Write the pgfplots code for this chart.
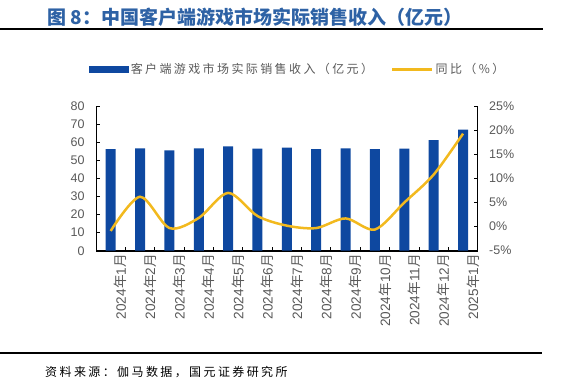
\documentclass[border=0pt]{standalone}
\usepackage{fontspec}
\setmainfont{Liberation Sans}
\newfontfamily\cjk{Noto Sans CJK SC}
\newfontfamily\cjkls{Noto Sans CJK SC}[LetterSpace=20]
\newfontfamily\cjkxl{Noto Sans CJK SC}[LetterSpace=20]
\usepackage{pgfplots}
\pgfplotsset{compat=1.18}
\definecolor{barblue}{RGB}{14,72,160}
\definecolor{gold}{RGB}{242,185,30}
\definecolor{titleblue}{RGB}{46,98,165}
\definecolor{tickgray}{RGB}{89,89,89}
\newcommand{\ym}[2]{#1{\cjk 年}#2{\cjk 月}}
\begin{document}
\begin{tikzpicture}
\path[use as bounding box] (0,0) rectangle (563pt,378pt);
\draw[line width=2pt] (0,349.2pt) -- (543pt,349.2pt);
\node[anchor=west, text=titleblue, font=\cjk\bfseries\fontsize{19}{21}\selectfont, inner sep=0] at (47pt,361pt) {图 8：中国客户端游戏市场实际销售收入（亿元）};
\draw[line width=2pt] (0,24.7pt) -- (542pt,24.7pt);
\node[anchor=west, font=\cjkxl\fontsize{12}{14}\selectfont, inner sep=0, text=black] at (45pt,6.3pt) {资料来源：伽马数据，国元证券研究所};

\begin{axis}[
  at={(96pt,127.3pt)}, anchor=south west,
  scale only axis, width=381.7pt, height=144.5pt,
  xmin=-0.5, xmax=12.5, ymin=0, ymax=80,
  axis x line*=bottom, axis y line*=left,
  axis line style={black, line width=0.8pt},
  x axis line style={line width=1.6pt},
  tick align=inside,
  xtick={0,...,12},
  xticklabels={\ym{2024}{1},\ym{2024}{2},\ym{2024}{3},\ym{2024}{4},\ym{2024}{5},\ym{2024}{6},\ym{2024}{7},\ym{2024}{8},\ym{2024}{9},\ym{2024}{10},\ym{2024}{11},\ym{2024}{12},\ym{2025}{1}},
  major x tick style={draw=none},
  minor xtick={-0.5,0.5,...,12.5},
  minor tick length=3.5pt,
  minor x tick style={black, line width=0.8pt},
  xticklabel style={rotate=90, anchor=east, font=\fontsize{13.6}{15}\selectfont, text=tickgray, yshift=-10pt},
  ytick={0,10,...,80},
  yticklabels={0,10,20,30,40,50,60,70,80},
  major tick length=3.5pt,
  y tick style={black, line width=0.8pt},
  yticklabel style={font=\fontsize{12.5}{14}\selectfont, text=tickgray, xshift=-8pt},
  /pgf/number format/assume math mode=true,
  legend style={at={(0.528,1.255)}, anchor=center, draw=none, fill=none,
    font=\cjkls\fontsize{12}{14}\selectfont, text=tickgray,
    /tikz/every even column/.append style={column sep=16pt}},
  legend columns=2,
  legend cell align=left,
]
\addplot[ybar, bar width=10pt, fill=barblue, draw=none,
  legend image code/.code={\fill[barblue] (0pt,-3.5pt) rectangle (40pt,3.5pt);}]
  coordinates {(0,56.2) (1,56.7) (2,55.6) (3,56.7) (4,57.7) (5,56.5) (6,57.1) (7,56.2) (8,56.7) (9,56.2) (10,56.5) (11,61.2) (12,67.1)};
\addlegendentry{客户端游戏市场实际销售收入（亿元）}
\addlegendimage{gold, line width=2.5pt, legend image code/.code={\draw[gold, line width=2.5pt] (0pt,0pt) -- (40pt,0pt);}}
\addlegendentry{同比（\%）}
\end{axis}

\begin{axis}[
  at={(96pt,127.3pt)}, anchor=south west,
  scale only axis, width=381.7pt, height=144.5pt,
  xmin=-0.5, xmax=12.5, ymin=-5, ymax=25,
  axis x line=none, axis y line*=right,
  axis line style={black, line width=0.8pt},
  tick align=inside,
  ytick={-5,0,5,10,15,20,25},
  yticklabels={-5\%,0\%,5\%,10\%,15\%,20\%,25\%},
  major tick length=3.5pt,
  y tick style={black, line width=0.8pt},
  yticklabel style={font=\fontsize{12.5}{14}\selectfont, text=tickgray, xshift=8pt},
  /pgf/number format/assume math mode=true,
]
\addplot[gold, line width=2.5pt, smooth, tension=0.5, mark=none]
  coordinates {(0,-0.9) (1,6.2) (2,-0.3) (3,1.8) (4,7.0) (5,2.2) (6,0.2) (7,-0.3) (8,1.7) (9,-0.6) (10,5.0) (11,10.8) (12,19.3)};
\end{axis}
\end{tikzpicture}
\end{document}
